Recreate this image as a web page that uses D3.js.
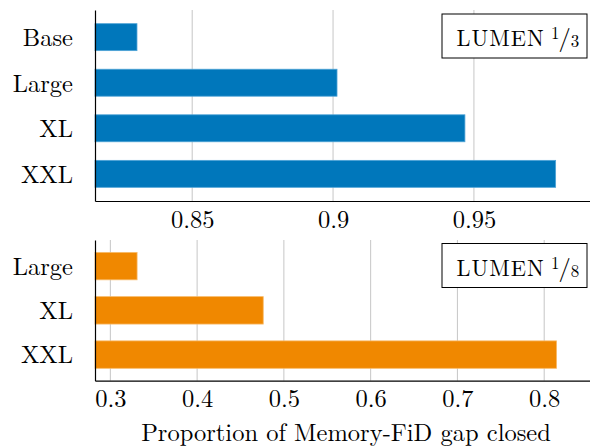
<!DOCTYPE html>
<html><head><meta charset="utf-8">
<script src="https://cdn.jsdelivr.net/npm/d3@7"></script>
<style>
html,body{margin:0;padding:0;background:#fff;}
svg{display:block;}
</style></head>
<body>
<svg id="chart" width="590" height="448"></svg>
<script>
// ---- data ----
const topCategories = ["Base", "Large", "XL", "XXL"];
const topValues = [0.8304, 0.9014, 0.9468, 0.9790];
const topTicks = [0.85, 0.9, 0.95];
const topTickLabels = ["0.85", "0.9", "0.95"];
const topLegend = { name: "LUMEN", num: "1", den: "3" };

const bottomCategories = ["Large", "XL", "XXL"];
const bottomValues = [0.3308, 0.4762, 0.8143];
const bottomTicks = [0.3, 0.4, 0.5, 0.6, 0.7, 0.8];
const bottomTickLabels = ["0.3", "0.4", "0.5", "0.6", "0.7", "0.8"];
const bottomLegend = { name: "LUMEN", num: "1", den: "8" };

const xTitle = "Proportion of Memory-FiD gap closed";

// ---- drawing ----
const svg = d3.select("#chart");
const FONT = "'Latin Modern Roman', 'Liberation Serif', serif";
const FS = 24.5;

function panel(cfg) {
  const g = svg.append("g");
  const x = d3.scaleLinear().domain(cfg.xDomain).range([95, 590]);
  const y = d3.scaleBand().domain(cfg.categories).range([cfg.top, cfg.bottom])
    .paddingInner(cfg.pi).paddingOuter(cfg.po);

  // grid
  g.selectAll("line.grid").data(cfg.ticks).enter().append("line")
    .attr("x1", d => x(d)).attr("x2", d => x(d))
    .attr("y1", cfg.top).attr("y2", cfg.bottom)
    .attr("stroke", "#c6c6c6").attr("stroke-width", 1);

  // bars
  g.selectAll("rect.bar").data(cfg.values).enter().append("rect")
    .attr("x", x(cfg.xDomain[0]))
    .attr("y", (d, i) => y(cfg.categories[i]))
    .attr("width", d => x(d) - x(cfg.xDomain[0]))
    .attr("height", y.bandwidth())
    .attr("fill", cfg.color)
    .attr("stroke", cfg.edge).attr("stroke-width", 0.8);

  // axes
  const xAxis = d3.axisBottom(x).tickValues(cfg.ticks)
    .tickFormat((d, i) => cfg.tickLabels[i]).tickSize(0).tickPadding(0);
  const ax = g.append("g").attr("transform", `translate(0,${cfg.bottom})`).call(xAxis);
  ax.attr("font-family", null).attr("font-size", null);
  ax.select(".domain").attr("stroke", "#000").attr("stroke-width", 1.2);
  ax.selectAll("text").style("font-size", FS + "px").style("font-family", FONT)
    .attr("fill", "#000").attr("dy", null).attr("y", 26.5);

  const yAxis = d3.axisLeft(y).tickSize(0).tickPadding(0);
  const ay = g.append("g").attr("transform", `translate(95,0)`).call(yAxis);
  ay.attr("font-family", null).attr("font-size", null);
  ay.select(".domain").attr("stroke", "#000").attr("stroke-width", 1.2);
  ay.selectAll("text").style("font-size", FS + "px").style("font-family", FONT)
    .attr("fill", "#000").attr("x", -22).attr("dy", "0.36em");

  // legend box
  const lg = g.append("g");
  lg.append("rect").attr("x", 442).attr("y", cfg.legY).attr("width", 145).attr("height", 44)
    .attr("fill", "#fff").attr("stroke", "#000").attr("stroke-width", 1);
  const t = lg.append("text").attr("x", 456.5).attr("y", cfg.legY + 32)
    .style("font-family", FONT).style("font-size", "22.4px").attr("fill", "#000");
  t.append("tspan").attr("letter-spacing", 1).text(cfg.legend.name);
  t.append("tspan").attr("x", 551).attr("dy", -7).style("font-size", "17px").text(cfg.legend.num);
  t.append("tspan").attr("dy", 7).attr("dx", -1).style("font-size", "24.5px").text("/");
  t.append("tspan").attr("dx", 0).attr("dy", 1).style("font-size", "17px").text(cfg.legend.den);
}

panel({
  categories: topCategories, values: topValues, ticks: topTicks, tickLabels: topTickLabels,
  xDomain: [0.8155, 0.9912], top: 10, bottom: 201, pi: 0.408, po: 0.3,
  color: "#0077bb", edge: "#4ea3d6", legend: topLegend, legY: 14
});
panel({
  categories: bottomCategories, values: bottomValues, ticks: bottomTicks, tickLabels: bottomTickLabels,
  xDomain: [0.2823, 0.8528], top: 240, bottom: 380.7, pi: 0.38, po: 0.28,
  color: "#f08800", edge: "#f8bb6a", legend: bottomLegend, legY: 243.5
});

svg.append("text").attr("x", 346).attr("y", 441).attr("text-anchor", "middle")
  .style("font-family", FONT).style("font-size", FS + "px").attr("fill", "#000").text(xTitle);
</script>
</body></html>
